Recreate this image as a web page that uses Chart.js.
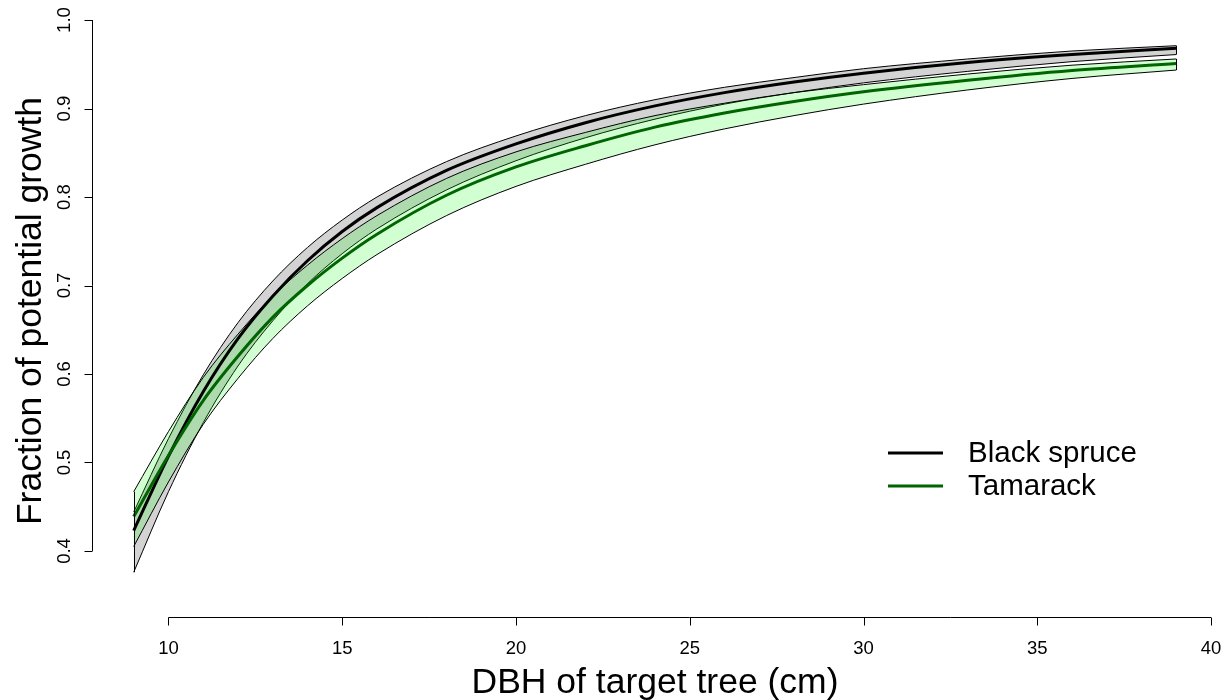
<!DOCTYPE html>
<html>
<head>
<meta charset="utf-8">
<script src="https://cdn.jsdelivr.net/npm/chart.js@4"></script>
<style>
  html, body { margin: 0; padding: 0; background: #fff; }
  #growthChart { display: block; }
</style>
</head>
<body>
<canvas id="growthChart" width="1228" height="700"></canvas>
<script>
// ── data ──
const dbh = [9, 10, 11, 12, 13, 14, 15, 16, 18, 20, 22, 24, 26, 28, 30, 33, 36, 39];

const spruceMean  = [0.423, 0.507, 0.580, 0.640, 0.688, 0.728, 0.761, 0.788, 0.830, 0.860, 0.884, 0.903, 0.918, 0.930, 0.940, 0.952, 0.961, 0.968];
const spruceUpper = [0.444, 0.527, 0.599, 0.658, 0.705, 0.743, 0.774, 0.800, 0.840, 0.869, 0.892, 0.910, 0.924, 0.935, 0.945, 0.956, 0.965, 0.971];
const spruceLower = [0.376, 0.467, 0.545, 0.609, 0.660, 0.702, 0.736, 0.764, 0.808, 0.841, 0.867, 0.888, 0.905, 0.918, 0.929, 0.942, 0.953, 0.961];

const tamarackMean  = [0.439, 0.508, 0.570, 0.620, 0.664, 0.700, 0.731, 0.758, 0.802, 0.834, 0.858, 0.879, 0.895, 0.908, 0.919, 0.932, 0.943, 0.951];
const tamarackUpper = [0.467, 0.535, 0.596, 0.645, 0.688, 0.723, 0.753, 0.779, 0.821, 0.851, 0.873, 0.892, 0.906, 0.918, 0.927, 0.939, 0.949, 0.956];
const tamarackLower = [0.405, 0.478, 0.543, 0.595, 0.640, 0.677, 0.708, 0.735, 0.779, 0.812, 0.837, 0.859, 0.877, 0.892, 0.905, 0.921, 0.934, 0.9435];

const xTicks = [10, 15, 20, 25, 30, 35, 40];
const yTicks = [0.4, 0.5, 0.6, 0.7, 0.8, 0.9, 1.0];
const seriesNames = ['Black spruce', 'Tamarack'];

const FONT = '"Liberation Sans", Arial, Helvetica, sans-serif';

const pts = arr => arr.map((v, i) => ({ x: dbh[i], y: v }));

// R-style detached axes, titles, legend and polygon end edges
const baseGraphics = {
  id: 'baseGraphics',
  afterDatasetsDraw(chart) {
    const { ctx, scales: { x, y } } = chart;
    ctx.save();
    ctx.strokeStyle = '#000';
    ctx.lineWidth = 1;

    // closing edges of the confidence polygons
    const last = dbh.length - 1;
    [[spruceUpper, spruceLower], [tamarackUpper, tamarackLower]].forEach(([u, l]) => {
      [0, last].forEach(i => {
        const px = Math.round(x.getPixelForValue(dbh[i])) + 0.5;
        ctx.beginPath();
        ctx.moveTo(px, y.getPixelForValue(u[i]));
        ctx.lineTo(px, y.getPixelForValue(l[i]));
        ctx.stroke();
      });
    });

    // x axis
    const axY = Math.round(chart.chartArea.bottom) + 0.5;
    ctx.beginPath();
    ctx.moveTo(x.getPixelForValue(xTicks[0]), axY);
    ctx.lineTo(x.getPixelForValue(xTicks[xTicks.length - 1]), axY);
    xTicks.forEach(t => {
      const px = Math.round(x.getPixelForValue(t)) + 0.5;
      ctx.moveTo(px, axY);
      ctx.lineTo(px, axY + 8);
    });
    ctx.stroke();
    ctx.fillStyle = '#000';
    ctx.font = '18.5px ' + FONT;
    ctx.textAlign = 'center';
    ctx.textBaseline = 'alphabetic';
    xTicks.forEach(t => ctx.fillText(String(t), x.getPixelForValue(t), 654));

    // y axis
    const axX = Math.round(chart.chartArea.left) + 0.5;
    ctx.beginPath();
    ctx.moveTo(axX, y.getPixelForValue(yTicks[0]));
    ctx.lineTo(axX, y.getPixelForValue(yTicks[yTicks.length - 1]));
    yTicks.forEach(t => {
      const py = Math.round(y.getPixelForValue(t)) + 0.5;
      ctx.moveTo(axX, py);
      ctx.lineTo(axX - 8, py);
    });
    ctx.stroke();
    yTicks.forEach(t => {
      ctx.save();
      ctx.translate(70, y.getPixelForValue(t));
      ctx.rotate(-Math.PI / 2);
      ctx.fillText(t.toFixed(1), 0, 0);
      ctx.restore();
    });

    // axis titles
    ctx.font = '35.5px ' + FONT;
    ctx.fillText('DBH of target tree (cm)', (chart.chartArea.left + chart.chartArea.right) / 2, 693);
    ctx.save();
    ctx.translate(41, (chart.chartArea.top + chart.chartArea.bottom) / 2);
    ctx.rotate(-Math.PI / 2);
    ctx.fillText('Fraction of potential growth', 0, 0);
    ctx.restore();

    // legend
    const legendColors = ['#000000', '#006400'];
    ctx.font = '29.5px ' + FONT;
    ctx.textAlign = 'left';
    ctx.textBaseline = 'middle';
    seriesNames.forEach((name, i) => {
      const ly = 453 + i * 33;
      ctx.strokeStyle = legendColors[i];
      ctx.lineWidth = 3;
      ctx.beginPath();
      ctx.moveTo(888, ly);
      ctx.lineTo(943, ly);
      ctx.stroke();
      ctx.fillText(name, 968, ly + 1);
    });
    ctx.restore();
  }
};

const ctx = document.getElementById('growthChart').getContext('2d');

new Chart(ctx, {
  type: 'line',
  data: {
    datasets: [
      {
        label: 'Black spruce upper',
        data: pts(spruceUpper),
        borderColor: '#000',
        borderWidth: 1,
        backgroundColor: '#d3d3d3',
        fill: '+1',
        order: 6
      },
      {
        label: 'Black spruce lower',
        data: pts(spruceLower),
        borderColor: '#000',
        borderWidth: 1,
        fill: false,
        order: 5
      },
      {
        label: 'Tamarack upper',
        data: pts(tamarackUpper),
        borderColor: '#000',
        borderWidth: 1,
        backgroundColor: 'rgba(0, 255, 0, 0.18)',
        fill: '+1',
        order: 4
      },
      {
        label: 'Tamarack lower',
        data: pts(tamarackLower),
        borderColor: '#000',
        borderWidth: 1,
        fill: false,
        order: 3
      },
      {
        label: seriesNames[0],
        data: pts(spruceMean),
        borderColor: '#000000',
        borderWidth: 3,
        fill: false,
        order: 2
      },
      {
        label: seriesNames[1],
        data: pts(tamarackMean),
        borderColor: '#006400',
        borderWidth: 3,
        fill: false,
        order: 1
      }
    ]
  },
  options: {
    responsive: false,
    animation: false,
    devicePixelRatio: 1,
    layout: { padding: { left: 92, right: 10, top: 5, bottom: 83 } },
    elements: {
      point: { radius: 0, hoverRadius: 0 },
      line: { cubicInterpolationMode: 'monotone' }
    },
    plugins: {
      legend: { display: false },
      tooltip: { enabled: false },
      filler: { drawTime: 'beforeDatasetDraw' }
    },
    scales: {
      x: { type: 'linear', min: 7.8, max: 40.2, display: false },
      y: { type: 'linear', min: 0.3254, max: 1.017, display: false }
    }
  },
  plugins: [baseGraphics]
});
</script>
</body>
</html>
